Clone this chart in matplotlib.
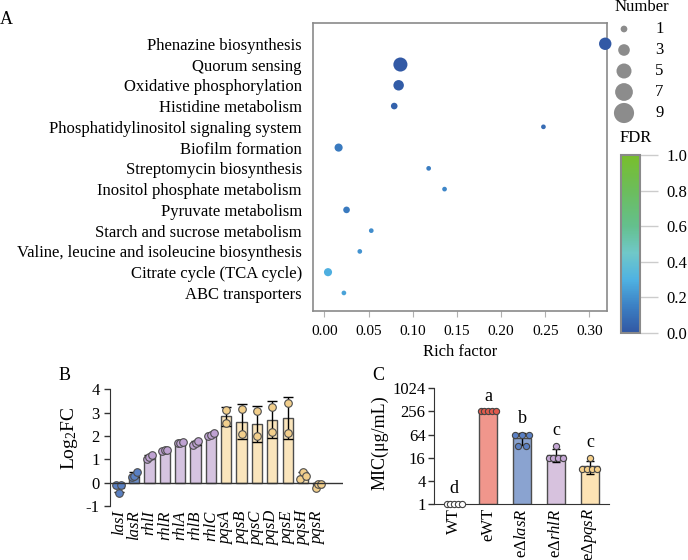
import numpy as np
import matplotlib
matplotlib.use('Agg')
import matplotlib.pyplot as plt
from matplotlib.colors import LinearSegmentedColormap, Normalize
from matplotlib.cm import ScalarMappable
from matplotlib.ticker import NullLocator

plt.rcParams['font.family'] = ['Liberation Serif', 'DejaVu Serif']
plt.rcParams['mathtext.fontset'] = 'custom'
plt.rcParams['mathtext.rm'] = 'Liberation Serif'
plt.rcParams['mathtext.it'] = 'Liberation Serif:italic'
plt.rcParams['mathtext.default'] = 'regular'
plt.rcParams['axes.unicode_minus'] = False

# ---- panel A: KEGG enrichment ----
pathways = ['Phenazine biosynthesis', 'Quorum sensing', 'Oxidative phosphorylation',
            'Histidine metabolism', 'Phosphatidylinositol signaling system',
            'Biofilm formation', 'Streptomycin biosynthesis',
            'Inositol phosphate metabolism', 'Pyruvate metabolism',
            'Starch and sucrose metabolism',
            'Valine, leucine and isoleucine biosynthesis',
            'Citrate cycle (TCA cycle)', 'ABC transporters']
rich_factor = [0.318, 0.086, 0.084, 0.079, 0.248, 0.016, 0.118, 0.136, 0.025,
               0.053, 0.040, 0.004, 0.022]
gene_number = [7, 9, 5, 2, 1, 3, 1, 1, 2, 1, 1, 3, 1]
fdr = [0.01, 0.01, 0.02, 0.04, 0.08, 0.13, 0.14, 0.17, 0.13, 0.19, 0.21, 0.29, 0.25]
legend_numbers = [1, 3, 5, 7, 9]

# ---- panel B: qPCR log2 fold change ----
genes = ['lasI', 'lasR', 'rhlI', 'rhlR', 'rhlA', 'rhlB', 'rhlC',
         'pqsA', 'pqsB', 'pqsC', 'pqsD', 'pqsE', 'pqsH', 'pqsR']
gene_group = ['las', 'las', 'rhl', 'rhl', 'rhl', 'rhl', 'rhl',
              'pqs', 'pqs', 'pqs', 'pqs', 'pqs', 'pqs', 'pqs']
log2fc = [[-0.10, -0.45, -0.12],
          [0.25, 0.30, 0.45],
          [1.03, 1.12, 1.20],
          [1.35, 1.38, 1.42],
          [1.70, 1.72, 1.74],
          [1.63, 1.70, 1.78],
          [2.00, 2.06, 2.12],
          [3.12, 2.55],
          [3.15, 2.08],
          [3.07, 1.98],
          [3.25, 2.15],
          [3.42, 2.13],
          [0.14, 0.44, 0.28],
          [-0.21, -0.04, -0.07]]

# ---- panel C: MIC ----
strains = ['WT', 'eWT', 'eΔ$\\mathit{lasR}$', 'eΔ$\\mathit{rhlR}$', 'eΔ$\\mathit{pqsR}$']
mic = [[1, 1, 1, 1, 1],
       [256, 256, 256, 256, 256],
       [64, 64, 64, 32, 32],
       [32, 16, 16, 16, 16],
       [16, 8, 8, 8, 8]]
sig_letters = ['d', 'a', 'b', 'c', 'c']

fdr_cmap = LinearSegmentedColormap.from_list('fdr', [
    (0.0, '#3157a3'), (0.15, '#3c80c4'), (0.3, '#4fb2e2'), (0.45, '#70c8c8'),
    (0.6, '#64c08e'), (0.8, '#6cbd5c'), (1.0, '#78be2c')])
fdr_norm = Normalize(0, 1)

W, H = 688, 560
fig = plt.figure(figsize=(6.88, 5.6), dpi=100)


def box(l, t, r, b):
    return [l / W, 1 - b / H, (r - l) / W, (b - t) / H]


# A
axA = fig.add_axes(box(313, 23, 607, 311))
ypos = np.arange(len(pathways))[::-1]
axA.scatter(rich_factor, ypos, s=np.array(gene_number) * 11.4, c=fdr,
            cmap=fdr_cmap, norm=fdr_norm, linewidths=0, clip_on=False, zorder=3)
axA.set_xlim(-0.013, 0.320)
axA.set_ylim(-0.87, 13.0)
axA.set_yticks(ypos)
axA.set_yticklabels(pathways, fontsize=12)
axA.tick_params(axis='y', length=0, pad=8)
axA.set_xticks(np.arange(0, 0.31, 0.05))
axA.set_xticklabels(['%.2f' % v for v in np.arange(0, 0.31, 0.05)])
axA.tick_params(axis='x', length=4, color='#b0b0b0', pad=6, labelsize=11)
for sp in axA.spines.values():
    sp.set_color('#8a8a8a')
    sp.set_linewidth(1.2)
axA.set_xlabel('Rich factor', fontsize=12)
axA.xaxis.label.set_va('center')
axA.xaxis.set_label_coords(0.5, (311 - 352) / 288)

# FDR colorbar
cax = fig.add_axes(box(621, 155, 640, 333))
cb = fig.colorbar(ScalarMappable(norm=fdr_norm, cmap=fdr_cmap), cax=cax,
                  ticks=[0, 0.2, 0.4, 0.6, 0.8, 1.0])
cb.ax.set_yticklabels(['0.0', '0.2', '0.4', '0.6', '0.8', '1.0'])
cb.outline.set_edgecolor('#8a8a8a')
cb.outline.set_linewidth(1.5)
cax.tick_params(length=13, color='#cccccc', width=1, labelsize=12, pad=6)
fig.text(636 / W, 1 - 138 / H, 'FDR', ha='center', va='center', fontsize=12)

# overlay for number legend and panel letters
ov = fig.add_axes([0, 0, 1, 1])
ov.set_xlim(0, W)
ov.set_ylim(H, 0)
ov.axis('off')
leg_y = 29 + 21 * np.arange(len(legend_numbers))
ov.scatter([624] * len(legend_numbers), leg_y, s=np.array(legend_numbers) * 23.3,
           color='#8c8c8c', linewidths=0)
for n, y in zip(legend_numbers, leg_y):
    ov.text(655, y, str(n), ha='left', va='center', fontsize=12)
ov.text(642, 7, 'Number', ha='center', va='center', fontsize=12)
ov.text(6, 20, 'A', ha='center', va='center', fontsize=13)
ov.text(65, 375, 'B', ha='center', va='center', fontsize=13)
ov.text(378, 375, 'C', ha='center', va='center', fontsize=13)

# B
bar_col = {'las': '#6d8ec8', 'rhl': '#d5c3e0', 'pqs': '#fae5bc'}
dot_col = {'las': '#5a80c2', 'rhl': '#bfa2d2', 'pqs': '#f2cf8c'}
axB = fig.add_axes(box(110, 389.3, 343, 506))
xb = np.arange(len(genes))
b_mean = np.array([np.mean(v) for v in log2fc])
b_sd = np.array([np.std(v, ddof=1) for v in log2fc])
axB.bar(xb, b_mean, width=0.67, color=[bar_col[g] for g in gene_group],
        edgecolor='#4d4d4d', linewidth=1, zorder=2)
axB.errorbar(xb, b_mean, yerr=b_sd, fmt='none', ecolor='black', elinewidth=1,
             capsize=3.5, capthick=1, zorder=3)
for i, vals in enumerate(log2fc):
    k = len(vals)
    offs = np.zeros(k) if k < 3 else (np.arange(k) - (k - 1) / 2) * 0.17
    axB.scatter(i + offs, vals, s=30, color=dot_col[gene_group[i]],
                edgecolor='#4d4d4d', linewidth=0.8, zorder=4)
axB.axhline(0, color='#333333', lw=1, zorder=5)
axB.set_xlim(-0.57, 14.6)
axB.set_ylim(-1, 4)
for s in ['top', 'right', 'bottom']:
    axB.spines[s].set_visible(False)
axB.spines['left'].set_color('#333333')
axB.set_xticks(xb)
axB.set_xticklabels(genes, rotation=90, fontstyle='italic', fontsize=12)
axB.tick_params(axis='x', length=0, pad=3)
axB.tick_params(axis='y', length=4, width=1, labelsize=12, color='#333333')
axB.set_yticks([-1, 0, 1, 2, 3, 4])
axB.set_ylabel('Log$_2$FC', fontsize=14)
axB.yaxis.label.set_va('center')
axB.yaxis.set_label_coords((70 - 110) / 233, (506 - 438) / 116.7)

# C
c_bar = ['#ffffff', '#f0968c', '#8aa3d0', '#d7c2de', '#fde3b4']
c_dot = ['#ffffff', '#e05a4c', '#5b80c4', '#c4a6d4', '#f6d08a']
axC = fig.add_axes(box(434, 388.3, 609, 504))
axC.set_yscale('log', base=2)
xc = np.arange(len(strains))
c_mean = np.array([np.mean(v) for v in mic])
c_sd = np.array([np.std(v, ddof=1) for v in mic])
axC.bar(xc, c_mean - 1, bottom=1, width=0.55, color=c_bar,
        edgecolor='#4d4d4d', linewidth=1, zorder=2)
axC.errorbar(xc, c_mean, yerr=c_sd, fmt='none', ecolor='black', elinewidth=1,
             capsize=3, capthick=1, zorder=3)
for i, vals in enumerate(mic):
    vals = np.array(vals)
    for v in np.unique(vals):
        k = int(np.sum(vals == v))
        step = 0.22 if k < 3 else 0.44 / (k - 1)
        offs = (np.arange(k) - (k - 1) / 2) * step
        axC.scatter(i + offs, [v] * k, s=20, color=c_dot[i], edgecolor='#444444',
                    linewidth=0.8, zorder=4, clip_on=False)
    top = max(vals.max(), c_mean[i] + c_sd[i])
    axC.annotate(sig_letters[i], (i, top), xytext=(0, 11), textcoords='offset points',
                 ha='center', va='center', fontsize=13)
axC.set_ylim(1, 1024)
axC.set_xlim(-0.59, 4.56)
axC.set_yticks([1, 4, 16, 64, 256, 1024])
axC.set_yticklabels(['1', '4', '16', '64', '256', '1024'])
axC.yaxis.set_minor_locator(NullLocator())
for s in ['top', 'right']:
    axC.spines[s].set_visible(False)
for s in ['left', 'bottom']:
    axC.spines[s].set_color('#333333')
axC.set_xticks(xc)
axC.set_xticklabels(strains, rotation=90, fontsize=12)
axC.tick_params(axis='x', length=0, pad=3)
axC.tick_params(axis='y', length=4, width=1, labelsize=12, pad=2, color='#333333')
axC.set_ylabel('MIC(μg/mL)', fontsize=13)
axC.yaxis.label.set_va('center')
axC.yaxis.set_label_coords((380 - 434) / 175, (504 - 443) / 115.7)

fig.savefig('out.png', dpi=100)
